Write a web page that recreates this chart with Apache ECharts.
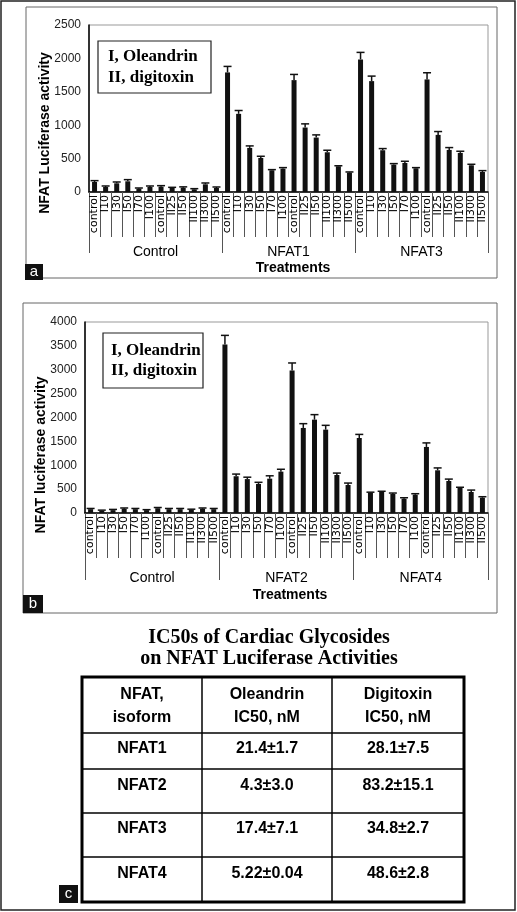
<!DOCTYPE html>
<html><head><meta charset="utf-8">
<script src="https://cdn.jsdelivr.net/npm/echarts@6/dist/echarts.min.js"></script>
<style>html,body{margin:0;padding:0;background:#fff}#c{width:517px;height:912px}</style>
</head><body><div id="c"></div>
<script>
// ---- data ----
const categories = ['control','I10','I30','I50','I70','I100','control','II25','II50','II100','II300','II500'];
const groupsA = ['Control','NFAT1','NFAT3'];
const groupsB = ['Control','NFAT2','NFAT4'];
const ticksA = [0, 500, 1000, 1500, 2000, 2500];
const ticksB = [0, 500, 1000, 1500, 2000, 2500, 3000, 3500, 4000];

// panel a
const aControl    = [150, 75, 130, 160, 50, 75, 80, 60, 65, 40, 115, 60];
const aControlErr = [20, 15, 20, 25, 10, 15, 15, 10, 12, 10, 20, 15];
const aNFAT1      = [1790, 1170, 660, 510, 325, 350, 1675, 965, 815, 595, 385, 290];
const aNFAT1Err   = [90, 50, 30, 25, 10, 15, 85, 55, 40, 30, 8, 10];
const aNFAT3      = [1985, 1660, 625, 410, 435, 355, 1685, 855, 630, 585, 400, 300];
const aNFAT3Err   = [105, 75, 25, 15, 25, 10, 100, 50, 35, 25, 15, 20];

// panel b
const bControl    = [80, 50, 60, 90, 80, 60, 100, 80, 80, 70, 90, 80];
const bControlErr = [15, 10, 15, 15, 15, 10, 15, 15, 15, 10, 15, 15];
const bNFAT2      = [3530, 770, 710, 608, 719, 866, 2982, 1781, 1955, 1746, 796, 587];
const bNFAT2Err   = [190, 45, 40, 35, 60, 50, 160, 90, 105, 90, 40, 40];
const bNFAT4      = [1571, 426, 440, 398, 300, 384, 1383, 894, 670, 524, 440, 321];
const bNFAT4Err   = [75, 10, 15, 20, 20, 20, 85, 50, 40, 15, 40, 20];

// table c
const tableTitle = ['IC50s of Cardiac Glycosides', 'on NFAT Luciferase Activities'];
const tableHeader = ['NFAT,\nisoform', 'Oleandrin\nIC50, nM', 'Digitoxin\nIC50, nM'];
const tableIsoforms = ['NFAT1', 'NFAT2', 'NFAT3', 'NFAT4'];
const tableOleandrin = ['21.4±1.7', '4.3±3.0', '17.4±7.1', '5.22±0.04'];
const tableDigitoxin = ['28.1±7.5', '83.2±15.1', '34.8±2.7', '48.6±2.8'];

// ---- build ----
const catsA = [].concat(categories, categories, categories);
const valsA = [].concat(aControl, aNFAT1, aNFAT3);
const errsA = [].concat(aControlErr, aNFAT1Err, aNFAT3Err);
const valsB = [].concat(bControl, bNFAT2, bNFAT4);
const errsB = [].concat(bControlErr, bNFAT2Err, bNFAT4Err);

const errData = (v, e) => v.map((x, i) => [i, x, x + e[i]]);
function renderErr(params, api) {
  const p0 = api.coord([api.value(0), api.value(1)]);
  const p1 = api.coord([api.value(0), api.value(2)]);
  const st = { stroke: '#111', lineWidth: 1.5 };
  return { type: 'group', children: [
    { type: 'line', shape: { x1: p0[0], y1: p0[1], x2: p1[0], y2: p1[1] }, style: st },
    { type: 'line', shape: { x1: p1[0] - 4, y1: p1[1], x2: p1[0] + 4, y2: p1[1] }, style: st }
  ]};
}

const catAxis = (gi) => ({
  gridIndex: gi, type: 'category', data: catsA, position: 'bottom',
  axisLine: { lineStyle: { color: '#000', width: 1.5 } },
  axisTick: { show: true, alignWithLabel: false, interval: 0, length: 45, lineStyle: { color: '#555' } },
  axisLabel: { interval: 0, rotate: 90, margin: 3, fontSize: 11, fontFamily: 'DejaVu Sans', color: '#000' }
});
const grpAxis = (gi, data, len, margin) => ({
  gridIndex: gi, type: 'category', data: data, position: 'bottom',
  axisLine: { show: false },
  axisTick: { show: true, alignWithLabel: false, length: len, lineStyle: { color: '#555' } },
  axisLabel: { margin: margin, fontSize: 14, fontFamily: 'Liberation Sans', color: '#000' }
});
const valAxis = (gi, ticks) => ({
  gridIndex: gi, type: 'value', min: ticks[0], max: ticks[ticks.length - 1], interval: ticks[1] - ticks[0],
  axisLine: { show: true, lineStyle: { color: '#000', width: 1.5 } },
  axisTick: { show: false }, splitLine: { show: false },
  axisLabel: { fontSize: 12, fontFamily: 'Liberation Sans', color: '#222', margin: 8, formatter: v => String(v) }
});

const g = [];
// outer border and panel boxes
g.push({ type: 'rect', shape: { x: 1, y: 1, width: 514, height: 909 }, style: { fill: 'none', stroke: '#222', lineWidth: 1.5 }, z: 0 });
g.push({ type: 'rect', shape: { x: 26, y: 7, width: 471, height: 271 }, style: { fill: 'none', stroke: '#666', lineWidth: 1 } });
g.push({ type: 'rect', shape: { x: 23, y: 303, width: 474, height: 310 }, style: { fill: 'none', stroke: '#666', lineWidth: 1 } });
// panel letters
function letter(x, y, w, h, t) {
  g.push({ type: 'rect', shape: { x: x, y: y, width: w, height: h }, style: { fill: '#111' }, z: 10 });
  g.push({ type: 'text', x: x + w / 2, y: y + h / 2, style: { text: t, font: '15px "Liberation Sans"', fill: '#fff', align: 'center', verticalAlign: 'middle' }, z: 11 });
}
letter(25, 264, 18, 16, 'a');
letter(23, 595, 20, 18, 'b');
letter(59, 885, 19, 18, 'c');
// legend boxes
g.push({ type: 'rect', shape: { x: 98, y: 41, width: 113, height: 52 }, style: { fill: '#fff', stroke: '#222', lineWidth: 1.2 }, z: 5 });
g.push({ type: 'text', x: 108, y: 67, style: { text: 'I, Oleandrin\nII, digitoxin', font: 'bold 17px "Liberation Serif"', lineHeight: 21, fill: '#000', align: 'left', verticalAlign: 'middle' }, z: 6 });
g.push({ type: 'rect', shape: { x: 103, y: 333, width: 100, height: 55 }, style: { fill: '#fff', stroke: '#222', lineWidth: 1.2 }, z: 5 });
g.push({ type: 'text', x: 111, y: 361, style: { text: 'I, Oleandrin\nII, digitoxin', font: 'bold 17px "Liberation Serif"', lineHeight: 20, fill: '#000', align: 'left', verticalAlign: 'middle' }, z: 6 });
// y axis names
g.push({ type: 'text', x: 45, y: 133, rotation: Math.PI / 2, style: { text: 'NFAT Luciferase activity', font: 'bold 14px "Liberation Sans"', fill: '#000', align: 'center', verticalAlign: 'middle' } });
g.push({ type: 'text', x: 41, y: 455, rotation: Math.PI / 2, style: { text: 'NFAT luciferase activity', font: 'bold 14px "Liberation Sans"', fill: '#000', align: 'center', verticalAlign: 'middle' } });
// x axis names
g.push({ type: 'text', x: 293, y: 268, style: { text: 'Treatments', font: 'bold 14px "Liberation Sans"', fill: '#000', align: 'center', verticalAlign: 'middle' } });
g.push({ type: 'text', x: 290, y: 595, style: { text: 'Treatments', font: 'bold 14px "Liberation Sans"', fill: '#000', align: 'center', verticalAlign: 'middle' } });
// table title
g.push({ type: 'text', x: 269, y: 648, style: { text: tableTitle.join('\n'), font: 'bold 20px "Liberation Serif"', lineHeight: 21, fill: '#000', align: 'center', verticalAlign: 'middle' } });
// table grid
const tX = [82, 202, 332, 464];
const tY = [677, 733, 769, 813, 857, 902];
g.push({ type: 'rect', shape: { x: tX[0], y: tY[0], width: tX[3] - tX[0], height: tY[5] - tY[0] }, style: { fill: 'none', stroke: '#000', lineWidth: 3 } });
[tX[1], tX[2]].forEach(x => g.push({ type: 'line', shape: { x1: x, y1: tY[0], x2: x, y2: tY[5] }, style: { stroke: '#000', lineWidth: 1.5 } }));
tY.slice(1, 5).forEach(y => g.push({ type: 'line', shape: { x1: tX[0], y1: y, x2: tX[3], y2: y }, style: { stroke: '#000', lineWidth: 1.5 } }));
const colC = [142, 267, 398];
const tFont = 'bold 16px "Liberation Sans"';
tableHeader.forEach((t, i) => g.push({ type: 'text', x: colC[i], y: 706.5, style: { text: t, font: tFont, lineHeight: 23, fill: '#000', align: 'center', verticalAlign: 'middle' } }));
const rowY = [749, 786, 829, 874];
tableIsoforms.forEach((t, r) => {
  [t, tableOleandrin[r], tableDigitoxin[r]].forEach((s, i) => g.push({ type: 'text', x: colC[i], y: rowY[r], style: { text: s, font: tFont, fill: '#000', align: 'center', verticalAlign: 'middle' } }));
});

const option = {
  animation: false,
  backgroundColor: '#fff',
  grid: [
    { left: 89, top: 25, width: 399, height: 167, show: true, borderColor: '#999', borderWidth: 1, backgroundColor: 'transparent' },
    { left: 85, top: 322, width: 403, height: 191, show: true, borderColor: '#999', borderWidth: 1, backgroundColor: 'transparent' }
  ],
  xAxis: [catAxis(0), grpAxis(0, groupsA, 61, 53), catAxis(1), grpAxis(1, groupsB, 67, 58)],
  yAxis: [valAxis(0, ticksA), valAxis(1, ticksB)],
  series: [
    { type: 'bar', xAxisIndex: 0, yAxisIndex: 0, data: valsA, barWidth: 5, itemStyle: { color: '#111' } },
    { type: 'custom', xAxisIndex: 0, yAxisIndex: 0, data: errData(valsA, errsA), renderItem: renderErr, z: 3 },
    { type: 'bar', xAxisIndex: 2, yAxisIndex: 1, data: valsB, barWidth: 5, itemStyle: { color: '#111' } },
    { type: 'custom', xAxisIndex: 2, yAxisIndex: 1, data: errData(valsB, errsB), renderItem: renderErr, z: 3 }
  ],
  graphic: g
};
const chart = echarts.init(document.getElementById('c'), null, { renderer: 'canvas' });
chart.setOption(option);
</script>
</body></html>
